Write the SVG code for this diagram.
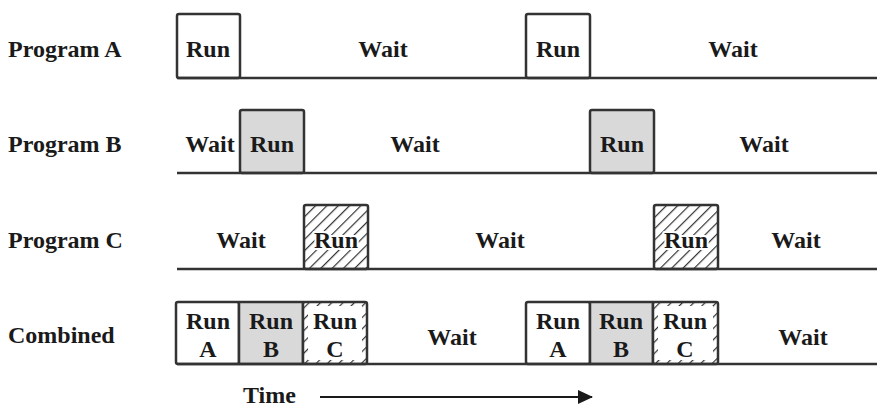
<svg xmlns="http://www.w3.org/2000/svg" width="888" height="416" viewBox="0 0 888 416">
<defs>
<pattern id="hatch" patternUnits="userSpaceOnUse" width="8" height="8" patternTransform="rotate(45)">
<rect width="8" height="8" fill="#fff"/>
<line x1="0" y1="0" x2="0" y2="8" stroke="#333" stroke-width="2.4"/>
</pattern>
<marker id="arrow" markerWidth="15" markerHeight="14" refX="14" refY="7" orient="auto" markerUnits="userSpaceOnUse">
<path d="M0,0 L15,7 L0,14 Z" fill="#1a1a1a"/>
</marker>
</defs>
<style>
text{font-family:"Liberation Serif","Times New Roman",serif;font-weight:bold;font-size:24px;fill:#1a1a1a}
.lbl{text-anchor:start}
.c{text-anchor:middle}
.halo{paint-order:stroke;stroke:#fff;stroke-width:4px;stroke-linejoin:round}
.axis{stroke:#333;stroke-width:2.5;fill:none}
.box{stroke:#333;stroke-width:2.5}
.white{fill:#fff}
.gray{fill:#d9d9d9}
.hat{fill:url(#hatch)}
</style>
<rect width="888" height="416" fill="#fff"/>

<g id="programA">
<text class="lbl" x="8" y="57">Program A</text>
<rect class="box white" x="177" y="14" width="63" height="64" rx="2"/>
<rect class="box white" x="526" y="14" width="64" height="64" rx="2"/>
<line class="axis" x1="177" y1="78" x2="877" y2="78"/>
<text class="c" x="208" y="57">Run</text>
<text class="c" x="383" y="57">Wait</text>
<text class="c" x="558" y="57">Run</text>
<text class="c" x="733" y="57">Wait</text>
</g>

<g id="programB">
<text class="lbl" x="8" y="152">Program B</text>
<rect class="box gray" x="240" y="110" width="64" height="63" rx="2"/>
<rect class="box gray" x="590" y="110" width="64" height="63" rx="2"/>
<line class="axis" x1="177" y1="173" x2="877" y2="173"/>
<text class="c" x="210" y="152">Wait</text>
<text class="c" x="272" y="152">Run</text>
<text class="c" x="415" y="152">Wait</text>
<text class="c" x="622" y="152">Run</text>
<text class="c" x="764" y="152">Wait</text>
</g>

<g id="programC">
<text class="lbl" x="8" y="248">Program C</text>
<rect class="box hat" x="304" y="205" width="64" height="64" rx="2"/>
<rect class="box hat" x="654" y="205" width="64" height="64" rx="2"/>
<line class="axis" x1="177" y1="269" x2="877" y2="269"/>
<text class="c" x="241" y="248">Wait</text>
<text class="c halo" x="336" y="248">Run</text>
<text class="c" x="500" y="248">Wait</text>
<text class="c halo" x="686" y="248">Run</text>
<text class="c" x="796" y="248">Wait</text>
</g>

<g id="combined">
<text class="lbl" x="8" y="343">Combined</text>
<rect class="box white" x="176" y="302" width="63" height="62" rx="2"/>
<rect class="box gray" x="239" y="302" width="64" height="62"/>
<rect class="box hat" x="303" y="302" width="64" height="62" rx="2"/>
<rect class="white" x="308" y="306" width="54" height="54"/>
<rect class="box white" x="526" y="302" width="64" height="62" rx="2"/>
<rect class="box gray" x="590" y="302" width="63" height="62"/>
<rect class="box hat" x="653" y="302" width="65" height="62" rx="2"/>
<rect class="white" x="658" y="306" width="55" height="54"/>
<line class="axis" x1="177" y1="364" x2="877" y2="364"/>
<text class="c" x="208" y="329">Run</text>
<text class="c" x="208" y="357">A</text>
<text class="c" x="271" y="329">Run</text>
<text class="c" x="271" y="357">B</text>
<text class="c" x="335" y="329">Run</text>
<text class="c" x="335" y="357">C</text>
<text class="c" x="452" y="345">Wait</text>
<text class="c" x="558" y="329">Run</text>
<text class="c" x="558" y="357">A</text>
<text class="c" x="621" y="329">Run</text>
<text class="c" x="621" y="357">B</text>
<text class="c" x="685" y="329">Run</text>
<text class="c" x="685" y="357">C</text>
<text class="c" x="803" y="345">Wait</text>
</g>

<g id="timeLabel">
<text class="lbl" x="243" y="403">Time</text>
</g>

<g id="connectors">
<line x1="320" y1="397" x2="592" y2="397" stroke="#1a1a1a" stroke-width="2.2" marker-end="url(#arrow)"/>
</g>
</svg>
